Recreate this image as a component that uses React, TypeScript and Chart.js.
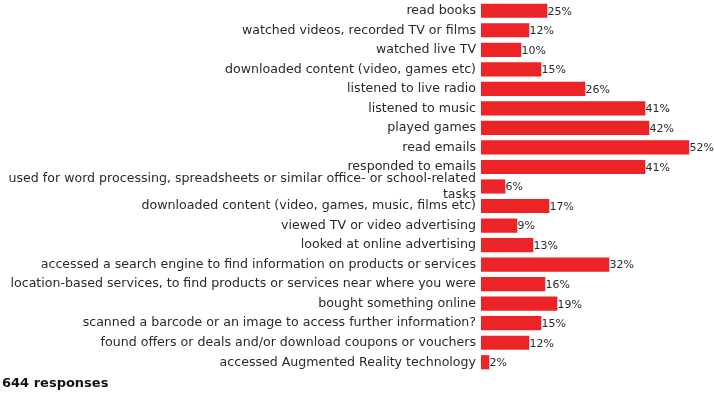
import React, { useEffect, useRef } from "react";
import { Chart, registerables } from "chart.js";

Chart.register(...registerables);

const categories: (string | string[])[] = [
  "read books",
  "watched videos, recorded TV or films",
  "watched live TV",
  "downloaded content (video, games etc)",
  "listened to live radio",
  "listened to music",
  "played games",
  "read emails",
  "responded to emails",
  ["used for word processing, spreadsheets or similar office- or school-related", "tasks"],
  "downloaded content (video, games, music, films etc)",
  "viewed TV or video advertising",
  "looked at online advertising",
  "accessed a search engine to find information on products or services",
  "location-based services, to find products or services near where you were",
  "bought something online",
  "scanned a barcode or an image to access further information?",
  "found offers or deals and/or download coupons or vouchers",
  "accessed Augmented Reality technology",
];

// bar lengths as drawn in the picture (the "read books" bar is drawn shorter than its label)
const barValues = [16.5, 12, 10, 15, 26, 41, 42, 52, 41, 6, 17, 9, 13, 32, 16, 19, 15, 12, 2];
const valueLabels = [
  "25%", "12%", "10%", "15%", "26%", "41%", "42%", "52%", "41%", "6%",
  "17%", "9%", "13%", "32%", "16%", "19%", "15%", "12%", "2%",
];
const responsesNote = "644 responses";

const FONT = "'DejaVu Sans', sans-serif";
const TEXT = "#2a2a2a";
const RED = "#EC2428";

const valueLabelPlugin = {
  id: "valueLabels",
  afterDatasetsDraw(chart: any) {
    const ctx = chart.ctx;
    const meta = chart.getDatasetMeta(0);
    ctx.save();
    ctx.font = `11px ${FONT}`;
    ctx.fillStyle = TEXT;
    ctx.textAlign = "left";
    ctx.textBaseline = "middle";
    meta.data.forEach((bar: any, i: number) => {
      ctx.fillText(valueLabels[i], bar.x + 0.5, bar.y + 1);
    });
    ctx.restore();
  },
};

export default function App() {
  const canvasRef = useRef<HTMLCanvasElement | null>(null);

  useEffect(() => {
    document.body.style.margin = "0";
    const canvas = canvasRef.current;
    if (!canvas) return;
    const chart = new Chart(canvas, {
      type: "bar",
      data: {
        labels: categories,
        datasets: [
          {
            data: barValues,
            backgroundColor: RED,
            borderWidth: 0,
            barThickness: 13.5,
          },
        ],
      },
      options: {
        indexAxis: "y",
        responsive: false,
        animation: false,
        layout: { padding: { top: 1, bottom: 23, left: 0, right: 0 } },
        plugins: {
          legend: { display: false },
          tooltip: { enabled: false },
          title: { display: false },
        },
        scales: {
          x: {
            display: false,
            min: 0,
            max: 58.25,
          },
          y: {
            grid: { display: false, drawTicks: false },
            border: { display: false },
            afterFit: (scale: any) => {
              scale.width = 481;
              scale.paddingTop = 0;
              scale.paddingBottom = 0;
            },
            ticks: {
              autoSkip: false,
              padding: 5,
              color: TEXT,
              font: { family: FONT, size: 12.6, lineHeight: 1.3 },
            },
          },
        },
      },
      plugins: [valueLabelPlugin],
    });
    return () => chart.destroy();
  }, []);

  return (
    <div style={{ position: "relative", width: 714, height: 395, background: "#fff" }}>
      <canvas ref={canvasRef} width={714} height={395} style={{ display: "block" }} />
      <div
        style={{
          position: "absolute",
          left: 2,
          top: 374,
          fontFamily: FONT,
          fontWeight: 700,
          fontSize: 13,
          color: "#111",
          lineHeight: "18px",
        }}
      >
        {responsesNote}
      </div>
    </div>
  );
}
